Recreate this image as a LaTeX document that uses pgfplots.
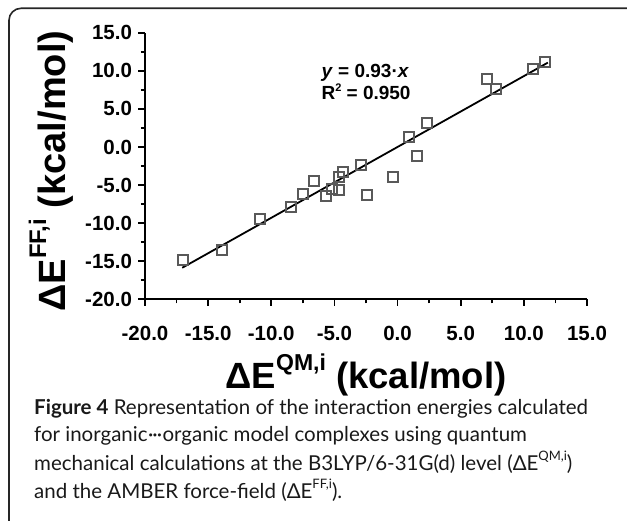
\documentclass[border=0pt]{standalone}
\usepackage{fontspec}
\setmainfont{Liberation Sans}
\newfontfamily\capfont{Lato}
\usepackage{pgfplots}
\pgfplotsset{compat=1.18}
\begin{document}
\begin{tikzpicture}[x=1pt,y=1pt]
\path[use as bounding box] (0,0) rectangle (627,520);
\clip (0,0) rectangle (627,520);
\draw[line width=1.6pt, color=black!85, rounded corners=12pt] (9,511.7) rectangle (680,-40);
\begin{axis}[
  at={(145pt,220.7pt)}, anchor=south west,
  scale only axis, width=442pt, height=266.6pt,
  xmin=-20, xmax=15, ymin=-20, ymax=15,
  axis x line=bottom, axis y line=left,
  axis line style={-, line width=1.8pt},
  xtick={-20,-15,...,15}, ytick={-20,-15,...,15},
  minor xtick={-17.5,-12.5,...,12.5}, minor ytick={-17.5,-12.5,...,12.5},
  tick align=outside,
  major tick length=6.5pt, minor tick length=4pt,
  every tick/.style={black, line width=1.8pt},
  tick label style={font=\fontsize{20.5}{22}\selectfont\bfseries},
  xticklabel shift=17pt,
  yticklabel shift=3pt,
  /pgf/number format/.cd, fixed, fixed zerofill, precision=1, assume math mode=true,
  /pgfplots/.cd,
  xlabel={\fontsize{36.5}{40}\selectfont\bfseries ΔE\raisebox{0.5em}{\fontsize{23}{24}\selectfont QM,i} (kcal/mol)},
  ylabel={\fontsize{38}{40}\selectfont\bfseries ΔE\raisebox{0.5em}{\fontsize{24}{26}\selectfont FF,i} (kcal/mol)},
  xlabel style={at={(axis description cs:0.5,-0.285)}, anchor=center},
  ylabel style={at={(axis description cs:-0.213,0.481)}, anchor=center, rotate=0},
  clip=false,
]
\addplot[only marks, mark=square, mark size=5pt, mark options={draw=black!65, line width=2pt, fill=none}] coordinates {
(-17.0,-14.8) (-13.9,-13.5) (-10.9,-9.5) (-8.4,-7.9) (-7.5,-6.2) (-6.6,-4.5)
(-5.7,-6.4) (-5.2,-5.5) (-4.6,-5.7) (-4.6,-3.9) (-4.3,-3.3) (-2.9,-2.4)
(-2.4,-6.3) (-0.4,-4.0) (0.9,1.3) (1.5,-1.2) (2.3,3.2) (7.1,8.9)
(7.8,7.6) (10.7,10.3) (11.7,11.2)
};
\addplot[black, line width=1.8pt] coordinates {(-17.05,-15.86) (11.9,11.07)};
\node[anchor=west, align=left, font=\fontsize{19}{22}\selectfont\bfseries] at (axis cs:-6.3,8.5)
  {\textit{y} = 0.93·\textit{x}\\R\raisebox{0.45em}{\fontsize{11}{12}\selectfont 2} = 0.950};
\end{axis}
\begin{scope}[font=\capfont\fontsize{20.5}{28}\selectfont, color=black!90]
\node[anchor=base west, inner sep=0] at (34,106) {\textbf{Figure 4} Representation of the interaction energies calculated};
\node[anchor=base west, inner sep=0] at (34,78.3) {for inorganic\kern0.5pt·\kern-1pt·\kern-1pt·\kern0.5pt organic model complexes using quantum};
\node[anchor=base west, inner sep=0] at (34,50) {mechanical calculations at the B3LYP/6-31G(d) level (ΔE\raisebox{0.45em}{\fontsize{13}{14}\selectfont QM,i})};
\node[anchor=base west, inner sep=0] at (34,22) {and the AMBER force-field (ΔE\raisebox{0.45em}{\fontsize{13}{14}\selectfont FF,i}).};
\end{scope}
\end{tikzpicture}
\end{document}
